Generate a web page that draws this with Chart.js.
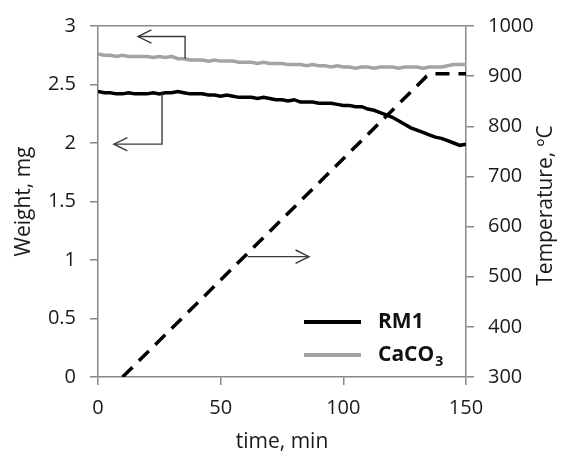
<!DOCTYPE html>
<html>
<head>
<meta charset="utf-8">
<title>TGA weight and temperature</title>
<script src="https://cdn.jsdelivr.net/npm/chart.js@4"></script>
<style>
  body { margin: 0; background: #fff; }
</style>
</head>
<body>
<canvas id="tga-chart" width="565" height="456"></canvas>
<script>
// time axis (min), one reading every 2.5 min
var timeMin = [0, 2.5, 5, 7.5, 10, 12.5, 15, 17.5, 20, 22.5, 25, 27.5, 30, 32.5, 35, 37.5,
  40, 42.5, 45, 47.5, 50, 52.5, 55, 57.5, 60, 62.5, 65, 67.5, 70, 72.5, 75, 77.5,
  80, 82.5, 85, 87.5, 90, 92.5, 95, 97.5, 100, 102.5, 105, 107.5, 110, 112.5, 115, 117.5,
  120, 122.5, 125, 127.5, 130, 132.5, 135, 137.5, 140, 142.5, 145, 147.5, 150];

// sample weights, mg
var rm1Weight = [2.44, 2.43, 2.43, 2.42, 2.42, 2.43, 2.42, 2.42, 2.42, 2.43, 2.42, 2.43,
  2.43, 2.44, 2.43, 2.42, 2.42, 2.42, 2.41, 2.41, 2.40, 2.41, 2.40, 2.39, 2.39, 2.39,
  2.38, 2.39, 2.38, 2.37, 2.37, 2.36, 2.37, 2.35, 2.35, 2.35, 2.34, 2.34, 2.34, 2.33,
  2.32, 2.32, 2.31, 2.31, 2.29, 2.28, 2.26, 2.24, 2.22, 2.19, 2.16, 2.13, 2.11, 2.09,
  2.07, 2.05, 2.04, 2.02, 2.00, 1.98, 1.99];
var caco3Weight = [2.76, 2.75, 2.75, 2.74, 2.75, 2.74, 2.74, 2.74, 2.74, 2.73, 2.74, 2.73,
  2.74, 2.72, 2.72, 2.71, 2.71, 2.71, 2.70, 2.71, 2.70, 2.70, 2.70, 2.69, 2.69, 2.69,
  2.68, 2.69, 2.68, 2.68, 2.68, 2.67, 2.67, 2.67, 2.66, 2.67, 2.66, 2.66, 2.65, 2.66,
  2.65, 2.65, 2.64, 2.65, 2.65, 2.64, 2.65, 2.65, 2.65, 2.64, 2.65, 2.65, 2.65, 2.64,
  2.65, 2.65, 2.65, 2.66, 2.67, 2.67, 2.67];

// furnace temperature, ºC
var tempTime = [10, 134, 137, 150];
var tempValues = [300, 900, 905, 905];

var seriesNames = ["RM1", "CaCO3"];
var legendParts = [["RM1", ""], ["CaCO", "3"]];

// arrows pointing each curve to its axis, in data units
var arrows = [
  { axis: "yW", pts: [[35.5, 2.72], [35.5, 2.91], [16.3, 2.91]] },
  { axis: "yW", pts: [[26.1, 2.42], [26.1, 1.99], [6.5, 1.99]] },
  { axis: "yT", pts: [[61, 540], [86, 540]] }
];

var FONT = "'Open Sans', sans-serif";
var AXIS = "#888888";
var TEXT = "#1a1a1a";

Chart.defaults.font.family = FONT;
Chart.defaults.font.size = 20;
Chart.defaults.color = TEXT;

function toPoints(xs, ys) {
  return xs.map(function (x, i) { return { x: x, y: ys[i] }; });
}

function plainTick(value) {
  return String(value);
}

var extras = {
  id: "extras",
  afterDatasetsDraw: function (chart) {
    var ctx = chart.ctx;
    var xs = chart.scales.x;
    var area = chart.chartArea;

    // arrows
    ctx.save();
    ctx.strokeStyle = "#3a3a3a";
    ctx.lineWidth = 1.4;
    arrows.forEach(function (a) {
      var ys = chart.scales[a.axis];
      var p = a.pts.map(function (d) {
        return [xs.getPixelForValue(d[0]), ys.getPixelForValue(d[1])];
      });
      ctx.beginPath();
      ctx.moveTo(p[0][0], p[0][1]);
      for (var i = 1; i < p.length; i++) ctx.lineTo(p[i][0], p[i][1]);
      ctx.stroke();
      var tip = p[p.length - 1], prev = p[p.length - 2];
      var ang = Math.atan2(tip[1] - prev[1], tip[0] - prev[0]);
      var len = 15, spread = 0.46;
      ctx.beginPath();
      ctx.moveTo(tip[0] - len * Math.cos(ang - spread), tip[1] - len * Math.sin(ang - spread));
      ctx.lineTo(tip[0], tip[1]);
      ctx.lineTo(tip[0] - len * Math.cos(ang + spread), tip[1] - len * Math.sin(ang + spread));
      ctx.stroke();
    });
    ctx.restore();

    // legend inside the plot
    ctx.save();
    var x0 = area.left + 206, x1 = area.left + 263, tx = area.left + 280;
    legendParts.forEach(function (parts, i) {
      var ds = chart.data.datasets[i];
      var y = area.top + 296 + i * 33;
      ctx.strokeStyle = ds.borderColor;
      ctx.lineWidth = 4;
      ctx.beginPath();
      ctx.moveTo(x0, y);
      ctx.lineTo(x1, y);
      ctx.stroke();
      ctx.fillStyle = "#111";
      ctx.textBaseline = "middle";
      ctx.font = "bold 21px " + FONT;
      ctx.fillText(parts[0], tx, y);
      if (parts[1]) {
        var w = ctx.measureText(parts[0]).width;
        ctx.font = "bold 14px " + FONT;
        ctx.fillText(parts[1], tx + w + 1, y + 7);
      }
    });
    ctx.restore();

    // right axis title, read bottom to top like the left one
    ctx.save();
    ctx.translate(chart.width - 19, (area.top + area.bottom) / 2 + 4);
    ctx.rotate(-Math.PI / 2);
    ctx.fillStyle = TEXT;
    ctx.font = "21px " + FONT;
    ctx.textAlign = "center";
    ctx.textBaseline = "middle";
    ctx.fillText("Temperature, ºC", 0, 0);
    ctx.restore();
  }
};

var chart = new Chart(document.getElementById("tga-chart"), {
  type: "line",
  data: {
    datasets: [
      {
        label: seriesNames[0],
        data: toPoints(timeMin, rm1Weight),
        yAxisID: "yW",
        borderColor: "#000",
        borderWidth: 3.5,
        pointRadius: 0,
        tension: 0
      },
      {
        label: seriesNames[1],
        data: toPoints(timeMin, caco3Weight),
        yAxisID: "yW",
        borderColor: "#a3a3a3",
        borderWidth: 3.5,
        pointRadius: 0,
        tension: 0
      },
      {
        label: "Temperature",
        data: toPoints(tempTime, tempValues),
        yAxisID: "yT",
        borderColor: "#000",
        borderWidth: 3.5,
        borderDash: [14, 9],
        pointRadius: 0,
        tension: 0
      }
    ]
  },
  options: {
    responsive: false,
    animation: false,
    layout: { padding: { top: 23, left: 0, right: 0, bottom: 0 } },
    plugins: {
      legend: { display: false },
      tooltip: { enabled: false }
    },
    scales: {
      x: {
        type: "linear",
        min: 0,
        max: 150,
        ticks: { stepSize: 50, padding: 11, color: TEXT, callback: plainTick },
        grid: { drawOnChartArea: false, tickLength: 8, tickColor: AXIS, lineWidth: 1.5 },
        border: { color: AXIS, width: 1.5 },
        title: { display: true, text: "time, min", color: TEXT, font: { size: 21 }, padding: { top: 0, bottom: 1 } },
        afterFit: function (s) { s.height = 79; }
      },
      yW: {
        position: "left",
        min: 0,
        max: 3,
        ticks: { stepSize: 0.5, padding: 14, color: TEXT, callback: plainTick },
        grid: {
          color: function (c) { return c.tick && c.tick.value === 3 ? AXIS : "transparent"; },
          tickColor: AXIS,
          tickLength: 8,
          lineWidth: 1.5
        },
        border: { color: AXIS, width: 1.5 },
        title: { display: true, text: "Weight, mg", color: TEXT, font: { size: 21 }, padding: { top: 11, bottom: 0 } },
        afterFit: function (s) { s.width = 98; }
      },
      yT: {
        position: "right",
        min: 300,
        max: 1000,
        ticks: { stepSize: 100, padding: 14, color: TEXT, callback: plainTick },
        grid: { drawOnChartArea: false, tickLength: 8, tickColor: AXIS, lineWidth: 1.5 },
        border: { color: AXIS, width: 1.5 },
        title: { display: false },
        afterFit: function (s) { s.width = 99; }
      }
    }
  },
  plugins: [extras]
});
</script>
</body>
</html>
